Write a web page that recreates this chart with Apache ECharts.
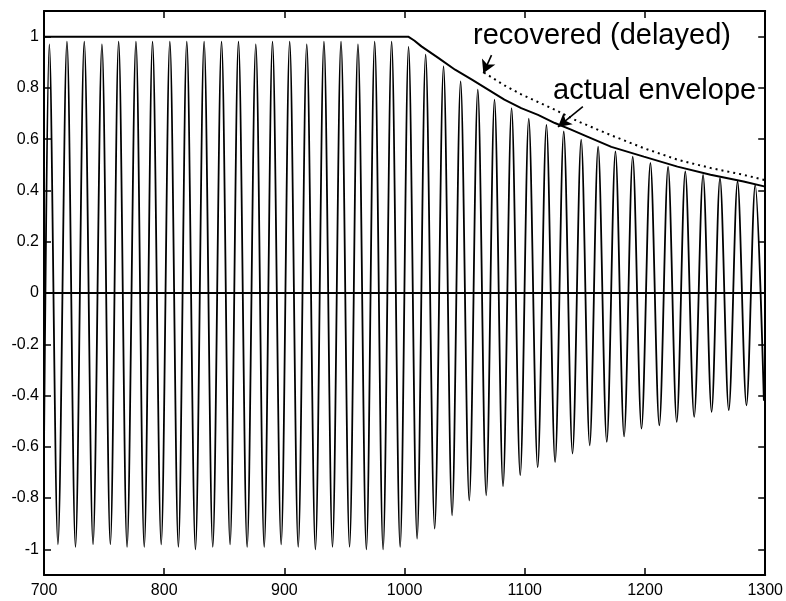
<!DOCTYPE html>
<html>
<head>
<meta charset="utf-8">
<script src="https://cdn.jsdelivr.net/npm/echarts@6/dist/echarts.min.js"></script>
<style>
  html, body { margin: 0; padding: 0; background: #fff; }
  #chart { width: 786px; height: 601px; }
</style>
</head>
<body>
<div id="chart"></div>
<script>
// Axis ticks
const xTicks = [700, 800, 900, 1000, 1100, 1200, 1300];
const yTicks = [-1, -0.8, -0.6, -0.4, -0.2, 0, 0.2, 0.4, 0.6, 0.8, 1];

// Oscillation: value at the left edge, then the crest and trough samples
const waveStart = [700, -0.6];
const peakTimes = [704.4, 719.1, 733.5, 748.2, 762.1, 776.5, 790.3, 804.7, 818.8, 833.2,
  847.7, 861.8, 876.2, 890.1, 904.4, 918.6, 932.9, 947.1, 961.2, 975.1,
  989.2, 1003.3, 1017.5, 1032.4, 1046.6, 1060.9, 1074.8, 1089.0, 1103.3, 1118.0,
  1132.4, 1146.9, 1161.0, 1175.4, 1189.8, 1204.5, 1219.2, 1233.5, 1248.3, 1262.4,
  1277.0, 1291.7];
const peakValues = [0.97, 0.98, 0.98, 0.97, 0.98, 0.98, 0.98, 0.98, 0.98, 0.98,
  0.98, 0.98, 0.97, 0.98, 0.98, 0.97, 0.98, 0.98, 0.97, 0.98,
  0.98, 0.96, 0.93, 0.884, 0.825, 0.793, 0.754, 0.721, 0.68, 0.656,
  0.63, 0.598, 0.571, 0.552, 0.532, 0.507, 0.493, 0.474, 0.461, 0.448,
  0.435, 0.422];
const troughTimes = [711.6, 726.2, 740.8, 755.2, 769.1, 783.4, 797.5, 811.8, 826.0, 840.4,
  854.8, 869.0, 883.2, 897.3, 911.5, 925.8, 940.0, 954.2, 968.2, 982.1,
  996.3, 1010.4, 1025.0, 1039.5, 1053.8, 1067.9, 1081.9, 1096.2, 1110.7, 1125.2,
  1139.7, 1154.0, 1168.2, 1182.6, 1197.1, 1211.9, 1226.4, 1240.9, 1255.4, 1269.7,
  1284.4, 1298.9];
const troughValues = [-0.98, -0.99, -0.98, -0.98, -0.99, -0.99, -0.98, -0.99, -1.0, -0.99,
  -0.98, -0.99, -0.99, -0.98, -0.99, -1.0, -0.99, -0.99, -1.0, -1.0,
  -0.99, -0.958, -0.919, -0.867, -0.809, -0.789, -0.754, -0.711, -0.68, -0.66,
  -0.626, -0.594, -0.581, -0.559, -0.529, -0.516, -0.503, -0.483, -0.464, -0.457,
  -0.438, -0.42];

// Actual envelope
const envelopeTimes = [700, 1003, 1008, 1014, 1028, 1042, 1056, 1069.5, 1083, 1097,
  1111, 1125, 1138.5, 1152, 1172, 1199, 1227, 1254.5, 1282, 1300];
const envelopeValues = [1.0, 1.0, 0.985, 0.962, 0.917, 0.871, 0.832, 0.793, 0.754, 0.721,
  0.695, 0.663, 0.637, 0.61, 0.57, 0.532, 0.493, 0.461, 0.435, 0.415];

// Recovered (delayed) envelope
const recoveredTimes = [1066, 1083, 1097, 1111, 1125, 1144, 1172, 1199, 1227, 1255, 1282, 1300];
const recoveredValues = [0.86, 0.81, 0.775, 0.745, 0.715, 0.67, 0.615, 0.565, 0.52, 0.487, 0.461, 0.44];

// Annotation arrows: [from, to] in data units
const arrowRecovered = [[1072.3, 0.928], [1065.5, 0.857]];
const arrowActual = [[1148.3, 0.727], [1127.6, 0.648]];

const FONT = 'Liberation Sans, Arial, Helvetica, sans-serif';

const wave = [waveStart];
const extrema = [];
peakTimes.forEach((t, i) => extrema.push([t, peakValues[i]]));
troughTimes.forEach((t, i) => extrema.push([t, troughValues[i]]));
extrema.sort((a, b) => a[0] - b[0]);
extrema.forEach(p => wave.push(p));

const envelope = envelopeTimes.map((t, i) => [t, envelopeValues[i]]);
const recovered = recoveredTimes.map((t, i) => [t, recoveredValues[i]]);

const boxAxis = {
  axisLine: { show: true, onZero: false, lineStyle: { color: '#000', width: 2 } },
  axisTick: { show: true, inside: true, length: 7, lineStyle: { color: '#000', width: 1.5 } },
  splitLine: { show: false }
};

const chart = echarts.init(document.getElementById('chart'), null, { renderer: 'canvas' });
chart.setOption({
  animation: false,
  backgroundColor: '#fff',
  grid: { left: 44, right: 18, top: 11, bottom: 26, containLabel: false },
  xAxis: [
    Object.assign({}, boxAxis, {
      type: 'value', position: 'bottom', min: 700, max: 1300, interval: 100,
      axisTick: Object.assign({}, boxAxis.axisTick, { customValues: xTicks }),
      axisLabel: {
        customValues: xTicks, color: '#000', fontFamily: FONT, fontSize: 16, margin: 8,
        formatter: v => String(v)
      }
    }),
    Object.assign({}, boxAxis, {
      type: 'value', position: 'top', min: 700, max: 1300, interval: 100,
      axisTick: Object.assign({}, boxAxis.axisTick, { customValues: xTicks }),
      axisLabel: { show: false }
    })
  ],
  yAxis: [
    Object.assign({}, boxAxis, {
      type: 'value', position: 'left', min: -1.1, max: 1.1,
      axisTick: Object.assign({}, boxAxis.axisTick, { customValues: yTicks }),
      axisLabel: {
        customValues: yTicks, color: '#000', fontFamily: FONT, fontSize: 16, margin: 5,
        formatter: v => String(Math.round(v * 10) / 10)
      }
    }),
    Object.assign({}, boxAxis, {
      type: 'value', position: 'right', min: -1.1, max: 1.1,
      axisTick: Object.assign({}, boxAxis.axisTick, { customValues: yTicks }),
      axisLabel: { show: false }
    })
  ],
  series: [
    {
      name: 'signal', type: 'line', data: wave, smooth: 0.32,
      showSymbol: false, symbol: 'none',
      lineStyle: { color: '#000', width: 1.8 }, z: 2
    },
    {
      name: 'zero', type: 'line', data: [[700, 0], [1300, 0]],
      showSymbol: false, symbol: 'none',
      lineStyle: { color: '#000', width: 2 }, z: 3
    },
    {
      name: 'actual envelope', type: 'line', data: envelope,
      showSymbol: false, symbol: 'none',
      lineStyle: { color: '#000', width: 2 }, z: 4,
      markLine: {
        silent: true, symbol: ['none', 'arrow'], symbolSize: [11, 13],
        label: { show: false },
        lineStyle: { color: '#000', width: 1.6, type: 'solid' },
        data: [
          [{ coord: arrowRecovered[0] }, { coord: arrowRecovered[1] }],
          [{ coord: arrowActual[0] }, { coord: arrowActual[1] }]
        ]
      }
    },
    {
      name: 'recovered (delayed)', type: 'line', data: recovered,
      showSymbol: false, symbol: 'none',
      lineStyle: { color: '#000', width: 2, type: [2, 4] }, z: 4
    }
  ],
  graphic: [
    { type: 'text', x: 473, y: 36, style: { text: 'recovered (delayed)', font: '29px ' + FONT, fill: '#000', verticalAlign: 'middle' } },
    { type: 'text', x: 553, y: 91, style: { text: 'actual envelope', font: '29px ' + FONT, fill: '#000', verticalAlign: 'middle' } }
  ]
});
</script>
</body>
</html>
